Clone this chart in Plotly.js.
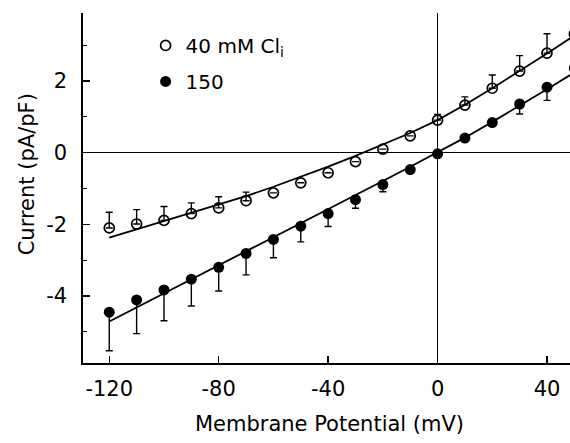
<!DOCTYPE html>
<html>
<head>
<meta charset="utf-8">
<script src="https://cdn.plot.ly/plotly-3.0.1.min.js"></script>
<style>html,body{margin:0;padding:0;background:#fff;overflow:hidden;}#wrap{width:570px;height:443px;overflow:hidden;}#chart{width:576px;height:443px;}</style>
</head>
<body>
<div id="wrap"><div id="chart"></div></div>
<script>
// Membrane potential (mV)
const voltage = [-120,-110,-100,-90,-80,-70,-60,-50,-40,-30,-20,-10,0,10,20,30,40,50];
// 40 mM Cl_i (open circles), mean current (pA/pF) and upward SEM
const cl40 = [-2.10,-1.99,-1.89,-1.70,-1.54,-1.34,-1.12,-0.84,-0.56,-0.25,0.10,0.47,0.91,1.33,1.80,2.28,2.78,3.31];
const cl40ErrUp = [0.44,0.40,0.39,0.30,0.31,0.24,0,0,0,0,0,0,0.16,0.23,0.37,0.43,0.54,0.60];
// 150 mM Cl_i (filled circles), mean current and downward SEM
const cl150 = [-4.45,-4.11,-3.83,-3.53,-3.20,-2.81,-2.42,-2.05,-1.70,-1.31,-0.89,-0.47,-0.03,0.41,0.84,1.36,1.83,2.36];
const cl150ErrDown = [1.08,0.94,0.86,0.75,0.66,0.60,0.51,0.44,0.36,0.24,0.20,0,0,0,0,0.28,0.37,0.40];
// Fitted curves
const fitVoltage = [-120,-110,-100,-90,-80,-70,-60,-50,-40,-30,-20,-10,0,10,20,30,40,50];
const cl40Fit = [-2.37,-2.14,-1.91,-1.69,-1.46,-1.21,-0.95,-0.68,-0.39,-0.09,0.22,0.55,0.91,1.34,1.80,2.28,2.77,3.27];
const cl150Fit = [-4.71,-4.32,-3.93,-3.54,-3.15,-2.76,-2.37,-1.98,-1.59,-1.19,-0.79,-0.39,0.01,0.42,0.86,1.31,1.77,2.24];
// Ticks
const xTickVals = [-120,-80,-40,0,40];
const xTickText = ["-120","-80","-40","0","40"];
const yTickVals = [-4,-2,0,2];
const yTickText = ["-4","-2","0","2"];
const legendNames = ["40 mM Cl<sub>i</sub>", "150"];

const FONT = "DejaVu Sans, Arial, sans-serif";
const zeros = voltage.map(() => 0);

const traces = [
  {x: fitVoltage, y: cl40Fit, mode: "lines", line: {color: "#000", width: 1.8}, showlegend: false, hoverinfo: "skip"},
  {x: fitVoltage, y: cl150Fit, mode: "lines", line: {color: "#000", width: 1.8}, showlegend: false, hoverinfo: "skip"},
  {x: voltage, y: cl40, name: legendNames[0], legendgroup: "a", mode: "markers",
   marker: {symbol: "circle-open", size: 10, color: "#000", line: {width: 1.7, color: "#000"}},
   error_y: {type: "data", symmetric: false, array: cl40ErrUp, arrayminus: zeros, color: "#000", thickness: 1.4, width: 3.5},
   cliponaxis: false},
  {x: voltage, y: cl150, name: legendNames[1], legendgroup: "b", mode: "markers",
   marker: {symbol: "circle", size: 11, color: "#000"},
   error_y: {type: "data", symmetric: false, array: zeros, arrayminus: cl150ErrDown, color: "#000", thickness: 1.4, width: 3.5},
   cliponaxis: false}
];

const layout = {
  width: 576, height: 443,
  margin: {l: 83, r: 0, t: 13, b: 80, pad: 0},
  paper_bgcolor: "#fff", plot_bgcolor: "#fff",
  font: {family: FONT, size: 21, color: "#000"},
  showlegend: true,
  legend: {x: 0.127, y: 0.963, xanchor: "left", yanchor: "top", bgcolor: "rgba(0,0,0,0)",
           font: {family: FONT, size: 20, color: "#000"}, traceorder: "grouped", tracegroupgap: 7,
           itemclick: false},
  xaxis: {
    range: [-129.6, 50.6], showgrid: false, zeroline: true, zerolinecolor: "#000", zerolinewidth: 1.4,
    showline: true, linecolor: "#000", linewidth: 1.6, mirror: false,
    ticks: "inside", ticklen: 7, tickwidth: 1.4, tickcolor: "#000",
    tickvals: xTickVals, ticktext: xTickText, ticklabelstandoff: 6,
    tickfont: {family: FONT, size: 21, color: "#000"},
    title: {text: "Membrane Potential (mV)", font: {family: FONT, size: 21, color: "#000"}, standoff: 16}
  },
  yaxis: {
    range: [-5.87, 3.90], showgrid: false, zeroline: true, zerolinecolor: "#000", zerolinewidth: 1.4,
    showline: true, linecolor: "#000", linewidth: 1.6, mirror: false,
    ticks: "inside", ticklen: 7, tickwidth: 1.4, tickcolor: "#000",
    tickvals: yTickVals, ticktext: yTickText, ticklabelstandoff: 10,
    minor: {dtick: 1, tick0: 1, ticks: "inside", ticklen: 4, tickcolor: "#000", tickwidth: 1},
    tickfont: {family: FONT, size: 21, color: "#000"}
  },
  annotations: [{
    text: "Current (pA/pF)", xref: "paper", yref: "paper", x: -0.113, y: 0.54,
    xanchor: "center", yanchor: "middle", textangle: -90, showarrow: false,
    font: {family: FONT, size: 21, color: "#000"}
  }]
};

Plotly.newPlot("chart", traces, layout, {displayModeBar: false, staticPlot: true});
</script>
</body>
</html>
